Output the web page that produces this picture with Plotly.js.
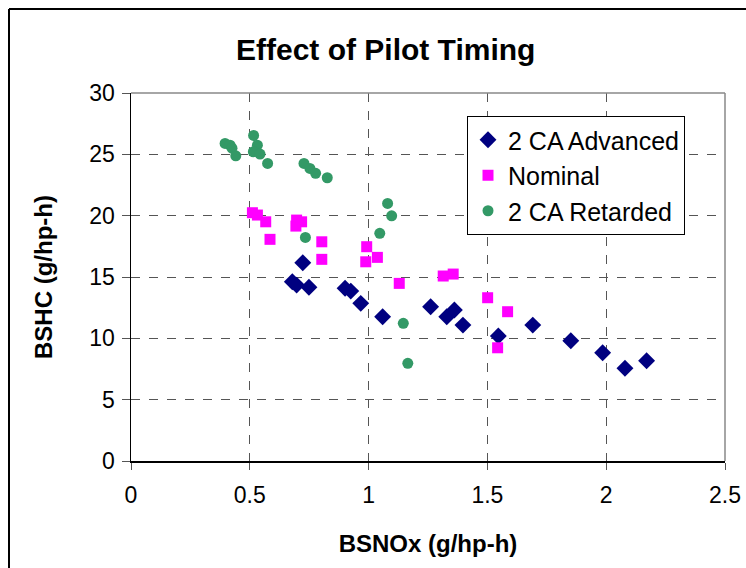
<!DOCTYPE html>
<html>
<head>
<meta charset="utf-8">
<script src="https://cdn.plot.ly/plotly-3.0.1.min.js"></script>
<style>html,body{margin:0;padding:0;background:#fff;}#chart{width:746px;height:568px;}</style>
</head>
<body>
<div id="chart"></div>
<script>
const advX = [0.723,0.679,0.697,0.749,0.901,0.925,0.967,1.059,1.261,1.329,1.361,1.397,1.546,1.691,1.851,1.985,2.079,2.170];
const advY = [16.16,14.61,14.34,14.16,14.08,13.85,12.85,11.76,12.58,11.76,12.31,11.08,10.19,11.08,9.80,8.83,7.56,8.17];

const nomX = [0.511,0.532,0.567,0.585,0.697,0.718,0.694,0.803,0.803,0.992,0.988,1.037,1.129,1.314,1.356,1.501,1.585,1.543];
const nomY = [20.24,20.05,19.5,18.07,19.64,19.5,19.15,17.87,16.44,17.47,16.24,16.6,14.48,15.08,15.24,13.31,12.17,9.23];

const retX = [0.396,0.417,0.425,0.441,0.516,0.532,0.515,0.543,0.575,0.728,0.753,0.777,0.826,1.080,1.097,1.047,0.734,1.146,1.165];
const retY = [25.89,25.75,25.5,24.88,26.54,25.75,25.21,25.02,24.26,24.26,23.85,23.45,23.09,21.0,19.99,18.56,18.23,11.22,7.96];

const seriesNames = ['2 CA Advanced','Nominal','2 CA Retarded'];
const xTicks = [0,0.5,1,1.5,2,2.5];
const xTickText = ['0','0.5','1','1.5','2','2.5'];
const yTicks = [0,5,10,15,20,25,30];

const F = 'Arial, "Liberation Sans", sans-serif';

const traces = [
  {x: advX, y: advY, name: seriesNames[0], type: 'scatter', mode: 'markers',
   marker: {symbol: 'diamond', size: 13, color: '#000080'}},
  {x: nomX, y: nomY, name: seriesNames[1], type: 'scatter', mode: 'markers',
   marker: {symbol: 'square', size: 11, color: '#FF00FF'}},
  {x: retX, y: retY, name: seriesNames[2], type: 'scatter', mode: 'markers',
   marker: {symbol: 'circle', size: 11, color: '#339966'}}
];

const L = 131, R = 725, T = 93, B = 461;
const pw = R - L, ph = B - T;
function px(v){ return (v - L) / pw; }
function py(v){ return (B - v) / ph; }

const layout = {
  width: 746, height: 568,
  margin: {l: L, r: 746 - R, t: T, b: 568 - B},
  paper_bgcolor: '#fff', plot_bgcolor: '#fff',
  font: {family: F, color: '#000', size: 23},
  title: {text: '<b>Effect of Pilot Timing</b>', font: {family: F, size: 30, color: '#000'},
          xref: 'container', x: 0.517, xanchor: 'center', yref: 'container', y: 1 - 49/568, yanchor: 'middle'},
  xaxis: {
    range: [0, 2.5], tickvals: xTicks, ticktext: xTickText,
    showgrid: true, gridcolor: '#555', griddash: 'dash', gridwidth: 1,
    zeroline: false, showline: true, linecolor: '#000', linewidth: 1.5,
    ticks: 'outside', ticklen: 7, tickcolor: '#555', tickfont: {size: 23, family: F},
    ticklabelstandoff: 6,
    title: {text: '<b>BSNOx (g/hp-h)</b>', font: {size: 24, family: F}, standoff: 28}
  },
  yaxis: {
    range: [0, 30], tickvals: yTicks,
    showgrid: true, gridcolor: '#555', griddash: 'dash', gridwidth: 1,
    zeroline: false, showline: true, linecolor: '#000', linewidth: 1.5,
    ticks: 'outside', ticklen: 8, tickcolor: '#555', tickfont: {size: 23, family: F},
    ticklabelstandoff: 2,
    title: {text: '<b>BSHC (g/hp-h)</b>', font: {size: 24, family: F}, standoff: 30}
  },
  legend: {
    x: px(467), y: py(116), xanchor: 'left', yanchor: 'top',
    bgcolor: '#fff', bordercolor: '#000', borderwidth: 1,
    font: {size: 25, family: F}, tracegroupgap: 0
  },
  showlegend: true,
  shapes: [
    {type: 'line', xref: 'paper', yref: 'paper', x0: 0, x1: 1, y0: 1, y1: 1, line: {color: '#888', width: 1.5}},
    {type: 'line', xref: 'paper', yref: 'paper', x0: 1, x1: 1, y0: 0, y1: 1, line: {color: '#888', width: 1.5}},
    {type: 'line', xref: 'paper', yref: 'paper', x0: px(9), x1: px(760), y0: py(9), y1: py(9), line: {color: '#000', width: 2}},
    {type: 'line', xref: 'paper', yref: 'paper', x0: px(9), x1: px(9), y0: py(9), y1: py(600), line: {color: '#000', width: 2}}
  ]
};

Plotly.newPlot('chart', traces, layout, {displayModeBar: false, staticPlot: true});
</script>
</body>
</html>
